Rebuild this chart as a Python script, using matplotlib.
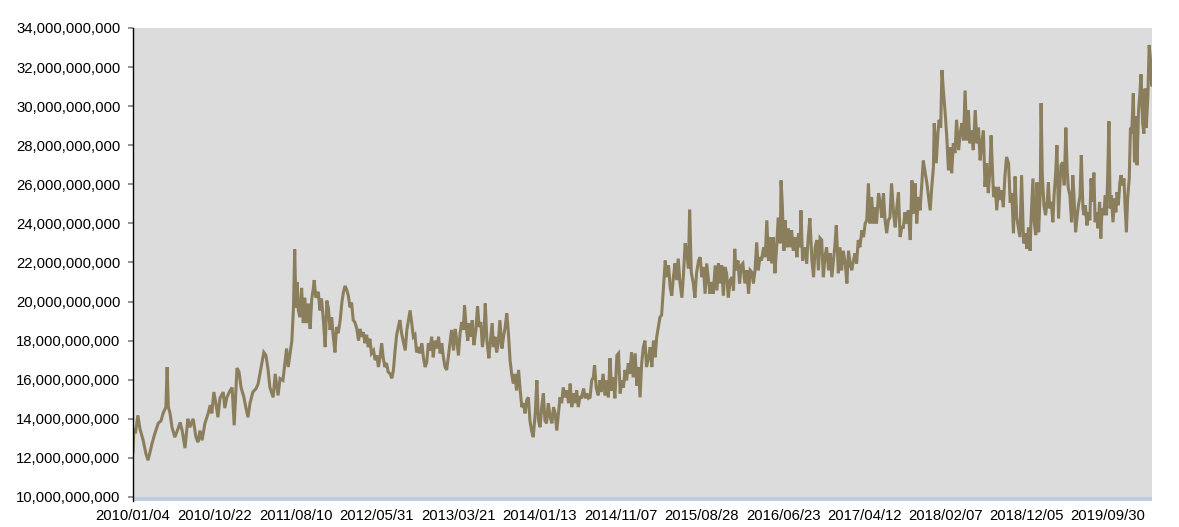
import matplotlib
matplotlib.use("Agg")
import matplotlib.pyplot as plt
from matplotlib.ticker import FuncFormatter

# x = trading-day index (0 = 2010/01/04), y = value in billions

days_a = [0, 2, 6, 12, 17, 25, 32, 37, 42, 47, 54, 62, 69, 74, 81, 84, 87, 91, 96, 103,
          111, 116, 121, 128, 135, 140, 148, 155, 160, 165, 170, 177, 185, 190, 194, 199, 204, 209, 214, 222,
          226, 231, 239, 244, 249, 256, 261, 266, 273, 278, 283, 288, 295, 303, 308, 315, 322, 327, 332, 337,
          345, 350, 357, 362, 369]
vals_a = [12.3, 13.5, 13.26, 14.18, 13.5, 12.9, 12.2, 11.88, 12.3, 12.75, 13.26, 13.77, 13.9, 14.28, 14.6, 16.65, 14.6, 14.3, 13.57, 13.06,
          13.5, 13.82, 13.4, 12.5, 14.0, 13.57, 14.0, 13.06, 12.8, 13.4, 12.9, 13.77, 14.28, 14.7, 14.28, 15.37, 14.8, 14.08, 15.05, 15.37,
          14.55, 15.1, 15.45, 15.6, 13.67, 16.6, 16.4, 15.6, 15.1, 14.55, 14.08, 14.8, 15.37, 15.55, 15.8, 16.6, 17.4, 17.25, 16.6, 15.6,
          15.1, 16.3, 15.2, 16.06, 15.97]

days_b = [374, 378, 382, 386, 391, 395, 398, 401, 404, 407, 411, 415, 419, 423, 427, 432, 436, 440, 444, 446,
          450, 456, 460, 464, 469, 473, 477, 481, 485, 489, 493, 497, 501, 505, 510, 514, 518, 522, 526, 530,
          534, 538, 542, 546, 551, 555, 559, 563, 567, 571, 575, 579, 583, 587, 592, 596, 600, 604, 608, 612,
          616, 620, 624, 628, 633, 637, 641, 645, 649, 653, 657, 661, 665, 670, 674, 678, 682, 686, 690, 694,
          698, 702, 706, 711, 715, 719, 723, 727, 731]
vals_b = [16.85, 17.6, 16.65, 17.25, 18.0, 19.7, 22.67, 19.7, 21.0, 19.55, 19.2, 20.7, 18.9, 20.2, 18.9, 19.9, 18.6, 20.15, 20.7, 21.1,
          20.2, 20.5, 19.55, 20.15, 18.9, 17.67, 20.05, 19.65, 18.55, 19.2, 18.2, 17.4, 18.7, 18.38, 19.05, 19.95, 20.5, 20.8, 20.6, 20.3,
          19.7, 19.95, 19.05, 18.95, 18.6, 18.0, 18.6, 18.2, 18.43, 17.87, 18.3, 17.67, 18.1, 17.35, 17.5, 17.0, 17.25, 16.65, 17.15, 17.87,
          17.1, 16.65, 16.85, 16.4, 16.3, 16.07, 16.5, 17.5, 18.3, 18.7, 19.05, 18.38, 18.0, 17.5, 18.55, 19.05, 19.55, 18.9, 18.2, 18.3,
          17.4, 17.67, 17.35, 17.87, 17.1, 16.65, 16.9, 17.87, 17.5]

days_c = [735, 739, 743, 748, 752, 756, 760, 764, 768, 772, 776, 780, 784, 789, 793, 797, 801, 805, 809, 813,
          816, 820, 824, 827, 831, 835, 839, 844, 848, 852, 856, 860, 864, 867, 871, 876, 879, 884, 887, 891,
          895, 899, 903, 908, 912, 916, 920, 924, 928, 932, 936, 940, 944, 949, 953, 957, 961, 965, 969, 973,
          977, 981, 985, 990, 994, 998, 1002, 1006, 1010, 1014, 1018, 1022, 1027, 1031, 1035, 1039, 1043, 1047, 1051, 1055,
          1059, 1063, 1068, 1072, 1076, 1080, 1084, 1088, 1092, 1096, 1100]
vals_c = [18.2, 17.15, 18.0, 17.6, 18.2, 17.35, 17.87, 17.15, 16.65, 16.5, 17.15, 17.87, 18.55, 17.5, 18.6, 18.0, 17.25, 18.38, 18.95, 18.55,
          19.8, 18.7, 18.0, 18.9, 18.2, 19.05, 17.77, 18.55, 19.75, 18.7, 18.95, 17.67, 18.38, 19.9, 18.0, 17.1, 17.87, 18.9, 17.67, 18.2,
          17.4, 17.87, 19.05, 17.6, 18.2, 18.7, 19.4, 18.38, 17.0, 16.3, 15.8, 16.3, 15.45, 16.5, 15.45, 14.6, 14.8, 14.28, 14.95, 15.1,
          13.9, 13.4, 13.06, 14.28, 15.97, 13.9, 13.57, 14.6, 15.3, 13.9, 13.77, 14.8, 14.08, 13.77, 14.6, 14.28, 13.4, 14.28, 15.1, 14.8,
          15.6, 15.1, 15.45, 14.8, 15.8, 14.6, 15.3, 14.8, 15.45, 14.6, 15.1]

days_d = [1104, 1109, 1113, 1117, 1121, 1125, 1129, 1133, 1136, 1140, 1145, 1149, 1152, 1157, 1162, 1166, 1170, 1174, 1178, 1182,
          1186, 1191, 1195, 1199, 1203, 1207, 1211, 1215, 1219, 1223, 1227, 1231, 1236, 1240, 1244, 1248, 1252, 1256, 1260, 1264,
          1269, 1273, 1277, 1281, 1285, 1289, 1293, 1297, 1301, 1305, 1310, 1314, 1318, 1322, 1326, 1330, 1334, 1338, 1342, 1346,
          1351, 1355, 1359, 1363, 1367, 1370, 1374, 1379, 1383, 1387, 1392, 1396, 1400, 1404, 1408, 1412, 1416, 1420, 1424, 1428,
          1433, 1437, 1441, 1445, 1449, 1453, 1457, 1461, 1465, 1470]
vals_d = [15.1, 15.55, 15.05, 15.3, 15.05, 15.1, 15.97, 16.12, 16.75, 15.6, 15.2, 15.97, 15.37, 16.3, 15.2, 15.97, 15.1, 17.1, 15.45, 16.12,
          15.05, 17.25, 17.35, 15.3, 15.97, 15.6, 16.5, 15.97, 16.85, 16.3, 17.4, 16.12, 17.35, 15.7, 16.65, 15.1, 16.85, 17.67, 18.0, 16.65,
          17.15, 17.67, 16.65, 18.0, 17.15, 18.2, 18.7, 19.2, 19.3, 20.57, 22.1, 21.25, 21.85, 20.75, 20.3, 21.25, 21.95, 21.1, 22.2, 21.0,
          20.2, 21.45, 22.98, 22.5, 21.7, 24.7, 21.5, 20.93, 20.2, 21.45, 22.1, 22.27, 21.25, 21.77, 20.4, 21.95, 21.17, 20.4, 21.0, 20.4,
          21.85, 20.57, 21.95, 20.93, 21.85, 20.3, 21.77, 21.45, 20.2, 21.1]

days_e = [1474, 1478, 1481, 1484, 1489, 1493, 1497, 1501, 1506, 1511, 1515, 1519, 1523, 1527, 1531, 1535, 1539, 1543, 1547, 1552,
          1556, 1560, 1564, 1568, 1572, 1576, 1580, 1584, 1588, 1593, 1595, 1598, 1602, 1605, 1609, 1613, 1617, 1621, 1625, 1630,
          1634, 1638, 1642, 1644, 1648, 1654, 1658, 1662, 1666, 1671, 1675, 1679, 1683, 1687, 1691, 1695, 1699, 1703, 1707, 1712,
          1716, 1720, 1724, 1728, 1731, 1736, 1740, 1744, 1748, 1753, 1757, 1761, 1765, 1769, 1773, 1777, 1781, 1785, 1789, 1794,
          1798, 1802, 1806, 1810, 1814, 1818, 1822, 1826, 1830, 1835, 1839]
vals_e = [21.25, 20.57, 22.7, 21.6, 22.1, 20.93, 21.85, 21.95, 20.93, 21.6, 20.4, 21.6, 21.5, 20.93, 21.6, 23.03, 21.6, 22.27, 22.1, 22.78,
          22.27, 24.16, 22.1, 23.3, 21.95, 23.3, 21.45, 22.78, 24.3, 22.98, 26.2, 25.0, 22.6, 24.16, 22.78, 23.75, 22.78, 23.65, 22.6, 23.3,
          22.27, 23.5, 22.78, 24.67, 22.1, 22.78, 21.95, 23.3, 24.26, 22.1, 21.25, 22.78, 23.15, 21.6, 23.25, 23.15, 21.25, 22.27, 22.78, 21.6,
          22.47, 21.25, 22.1, 22.98, 23.9, 21.45, 22.78, 21.6, 22.6, 21.95, 20.93, 22.6, 21.95, 21.6, 22.1, 22.47, 21.95, 23.15, 22.78, 23.65,
          23.3, 24.0, 24.16, 26.05, 24.0, 25.35, 24.0, 24.83, 24.0, 25.55, 25.05]

days_f = [1843, 1847, 1851, 1855, 1859, 1863, 1867, 1872, 1876, 1880, 1884, 1888, 1892, 1896, 1900, 1904, 1908, 1913, 1917, 1921,
          1925, 1929, 1933, 1937, 1941, 1945, 1949, 1954, 1958, 1962, 1966, 1970, 1972, 1977, 1981, 1984, 1988, 1991, 1995, 1999,
          2003, 2007, 2011, 2015, 2019, 2023, 2027, 2032, 2036, 2040, 2044, 2048, 2052, 2056, 2060, 2064, 2068, 2073, 2077, 2081,
          2085, 2089, 2093, 2097, 2101, 2105, 2109, 2112, 2118, 2122, 2126, 2130, 2134, 2138, 2142, 2146, 2150, 2155, 2159, 2163,
          2167, 2171, 2175, 2179, 2183, 2187, 2192, 2196, 2200, 2204, 2208]
vals_f = [24.3, 25.55, 24.16, 23.5, 24.16, 24.3, 26.05, 24.5, 23.8, 24.83, 25.6, 23.3, 23.8, 23.8, 24.57, 24.0, 24.67, 23.15, 26.2, 24.5,
          26.05, 24.0, 25.35, 24.67, 25.87, 27.23, 26.72, 26.05, 25.35, 24.67, 25.87, 26.88, 29.13, 27.08, 28.6, 29.3, 28.9, 31.85, 30.67, 29.64,
          28.4, 26.72, 27.9, 26.57, 28.1, 27.6, 29.3, 27.75, 28.6, 29.13, 28.25, 30.8, 28.25, 29.8, 28.1, 28.75, 27.75, 29.8, 28.1, 28.9,
          27.23, 28.1, 28.75, 25.87, 27.08, 25.55, 26.72, 28.5, 25.35, 25.87, 24.67, 25.87, 25.2, 25.7, 24.83, 26.4, 27.4, 27.08, 25.05, 25.55,
          23.5, 26.4, 24.3, 23.8, 23.3, 26.47, 22.98, 23.5, 22.7, 23.8, 22.6]

days_g = [2210, 2215, 2218, 2222, 2225, 2229, 2233, 2235, 2238, 2242, 2246, 2250, 2253, 2256, 2260, 2264, 2267, 2271, 2274, 2278,
          2281, 2284, 2288, 2292, 2296, 2299, 2302, 2306, 2310, 2313, 2316, 2320, 2324, 2327, 2331, 2334, 2338, 2341, 2344, 2348,
          2352, 2355, 2358, 2361, 2365, 2368, 2372, 2375, 2379, 2382, 2385, 2389, 2393, 2396, 2399, 2402, 2405, 2408, 2412, 2416,
          2419, 2422, 2425, 2429, 2432, 2435, 2439, 2442, 2445, 2448, 2452, 2455, 2458, 2462, 2465, 2468, 2471, 2475, 2478, 2481,
          2485, 2488, 2491, 2494, 2498, 2501, 2504, 2507]
vals_g = [24.06, 26.3, 24.06, 23.4, 26.1, 23.55, 25.6, 30.15, 26.47, 24.93, 24.42, 25.1, 26.1, 24.77, 25.1, 24.06, 25.43, 26.6, 28.0, 24.26,
          25.8, 26.98, 27.13, 25.95, 28.9, 26.8, 25.8, 25.43, 24.06, 26.47, 25.43, 23.55, 24.42, 24.93, 25.43, 27.5, 24.77, 24.42, 24.93, 23.9,
          24.57, 24.16, 26.3, 25.1, 26.6, 24.06, 24.57, 23.75, 25.1, 23.23, 24.77, 24.42, 25.43, 24.42, 26.47, 29.23, 24.77, 25.43, 24.06, 25.27,
          24.57, 25.6, 24.93, 26.1, 26.47, 25.95, 26.3, 24.77, 23.55, 25.27, 26.3, 28.9, 28.6, 30.67, 27.13, 29.47, 26.98, 29.8, 30.6, 31.63,
          29.13, 28.6, 30.9, 28.9, 30.6, 33.13, 32.45, 31.08]

tick_days = [0, 200, 400, 600, 800, 1000, 1200, 1400, 1600, 1800, 2000, 2200, 2400]
tick_labels = ["2010/01/04", "2010/10/22", "2011/08/10", "2012/05/31", "2013/03/21",
               "2014/01/13", "2014/11/07", "2015/08/28", "2016/06/23", "2017/04/12",
               "2018/02/07", "2018/12/05", "2019/09/30"]
n_days = 2508

days = days_a + days_b + days_c + days_d + days_e + days_f + days_g
vals = vals_a + vals_b + vals_c + vals_d + vals_e + vals_f + vals_g
vals = [v * 1e9 for v in vals]

plt.rcParams['font.family'] = ['Liberation Sans', 'DejaVu Sans']

fig = plt.figure(figsize=(11.79, 5.27), dpi=100)
ax = fig.add_axes([133 / 1179, 1 - 501 / 527, (1152 - 133) / 1179, (501 - 28) / 527])
ax.set_facecolor('#dcdcdc')

ymin = 9.795e9
ax.plot(days, vals, color='#8a7e5c', lw=2.2, solid_joinstyle='miter')
ax.axhspan(ymin, 10e9, color='#bccde0', lw=0)

ax.set_xlim(0, n_days)
ax.set_ylim(ymin, 34e9)

ax.set_yticks([i * 2e9 for i in range(5, 18)])
ax.yaxis.set_major_formatter(FuncFormatter(lambda v, p: f"{v:,.0f}"))
ax.tick_params(axis='y', length=3.6, width=1.2, color='#808080', pad=5.5, labelsize=10.7)

ax.set_xticks(tick_days)
ax.set_xticklabels(tick_labels)
ax.tick_params(axis='x', length=0, pad=6, labelsize=10.7)

for s in ['top', 'right', 'bottom']:
    ax.spines[s].set_visible(False)
ax.spines['left'].set_color('black')
ax.spines['left'].set_linewidth(1.0)

fig.savefig("out.png", dpi=100)
